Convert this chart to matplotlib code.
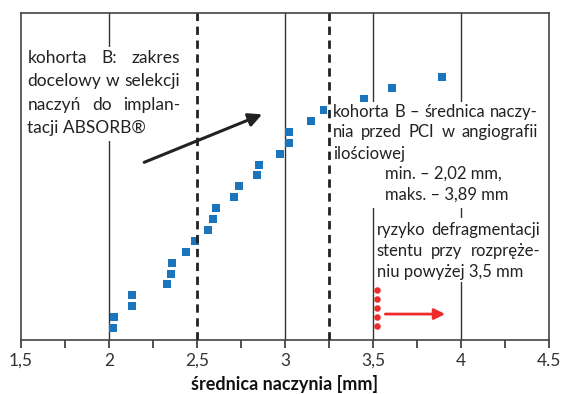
import matplotlib
matplotlib.use("Agg")
import matplotlib.pyplot as plt
from matplotlib.patches import Rectangle

# srednica naczynia (mm) - kohorta B, posortowane
srednica = [2.02, 2.03, 2.13, 2.13, 2.33, 2.35, 2.36, 2.44, 2.49, 2.56, 2.59, 2.61,
            2.71, 2.74, 2.84, 2.85, 2.97, 3.02, 3.02, 3.15, 3.22, 3.45, 3.61, 3.89]
pozycja = list(range(1, len(srednica) + 1))

# czerwone punkty - ryzyko
ryzyko_x = [3.52, 3.52, 3.52, 3.52, 3.52]
ryzyko_y = [1.21, 2.04, 2.83, 3.66, 4.49]

siatka = [2.0, 3.0, 3.5, 4.0]
zakres = [2.5, 3.25]
ticki = [1.5, 2.0, 2.5, 3.0, 3.5, 4.0, 4.5]
etykiety = ["1,5", "2", "2,5", "3", "3,5", "4", "4.5"]
ticki_male = [1.75, 2.25, 2.75, 3.25, 3.75, 4.25]

FONT = "Lato"
ciemny = "#222222"

fig = plt.figure(figsize=(5.63, 3.94), dpi=100)
ax = fig.add_axes([21 / 563, 54 / 394, 528 / 563, 327 / 394])
ax.set_xlim(1.5, 4.5)
ax.set_ylim(-0.1, 29.9)

for x in siatka:
    ax.axvline(x, color="#333333", lw=1.0, zorder=1)
for x in zakres:
    ax.axvline(x, color=ciemny, lw=2.0, ls=(0, (3.0, 2.0)), zorder=4)

ax.scatter(srednica, pozycja, marker="s", s=30, color="#1a75bc", lw=0, zorder=2)
ax.scatter(ryzyko_x, ryzyko_y, marker="o", s=22, color="#ee2a2a", lw=0, zorder=2)

# biale tla pod tekstami
for (x0, x1, y0, y1) in [(1.506, 2.46, 18.16, 26.78),
                         (3.239, 4.48, 12.0, 21.7),
                         (3.515, 4.48, 5.22, 11.09)]:
    ax.add_patch(Rectangle((x0, y0), x1 - x0, y1 - y0, facecolor="white",
                           edgecolor="none", zorder=3))

ax.annotate("", xy=(2.87, 20.6), xytext=(2.2, 16.2),
            arrowprops=dict(arrowstyle="-|>", lw=2.2, color=ciemny,
                            mutation_scale=20, shrinkA=0, shrinkB=0), zorder=5)
ax.annotate("", xy=(3.91, 2.28), xytext=(3.57, 2.28),
            arrowprops=dict(arrowstyle="-|>", lw=2.0, color="#ee2a2a",
                            mutation_scale=16, shrinkA=0, shrinkB=0), zorder=5)

ax.set_xticks(ticki)
ax.set_xticklabels(etykiety, fontfamily=FONT)
ax.set_xticks(ticki_male, minor=True)
ax.set_yticks([])
ax.tick_params(axis="x", which="both", direction="out", length=6, width=1.2,
               colors="#333333", labelsize=12.5, pad=3)
for s in ax.spines.values():
    s.set_color("#444444")
    s.set_linewidth(1.2)
ax.set_xlabel("średnica naczynia [mm]", fontfamily=FONT, fontweight="bold",
              fontsize=13, color="#111111", labelpad=5)

fig.canvas.draw()
renderer = fig.canvas.get_renderer()
px_na_jedn = ax.transData.transform((1, 0))[0] - ax.transData.transform((0, 0))[0]


def wiersz(tekst, x0, x1, y, justuj=True, size=12.5):
    kw = dict(fontfamily=FONT, fontsize=size, color=ciemny, va="baseline",
              ha="left", zorder=6)
    if not justuj:
        ax.text(x0, y, tekst, **kw)
        return
    slowa = tekst.split(" ")
    obj = [ax.text(x0, y, s, **kw) for s in slowa]
    szer = [o.get_window_extent(renderer).width / px_na_jedn for o in obj]
    odstep = (x1 - x0 - sum(szer)) / (len(slowa) - 1)
    odstep = max(odstep, 3.5 / px_na_jedn)
    x = x0
    for o, w in zip(obj, szer):
        o.set_x(x)
        x += w + odstep


# tekst 1
wiersz("kohorta B: zakres", 1.536, 2.405, 25.34)
wiersz("docelowy w selekcji", 1.536, 2.405, 23.2)
wiersz("naczyń do implan-", 1.536, 2.405, 21.0)
wiersz("tacji ABSORB®", 1.536, 2.405, 18.86, justuj=False)

# tekst 2
wiersz("kohorta B – średnica naczy-", 3.273, 4.435, 20.39, size=12)
wiersz("nia przed PCI w angiografii", 3.273, 4.435, 18.48, size=12)
wiersz("ilościowej", 3.273, 4.435, 16.55, justuj=False, size=12)
wiersz("min. – 2,02 mm,", 3.568, 4.435, 14.67, justuj=False, size=12)
wiersz("maks. – 3,89 mm", 3.568, 4.435, 12.79, justuj=False, size=12)

# tekst 3
wiersz("ryzyko defragmentacji", 3.521, 4.449, 9.53, size=12)
wiersz("stentu przy rozpręże-", 3.521, 4.449, 7.61, size=12)
wiersz("niu powyżej 3,5 mm", 3.521, 4.449, 5.71, justuj=False, size=12)

fig.savefig("out.png", dpi=100)
